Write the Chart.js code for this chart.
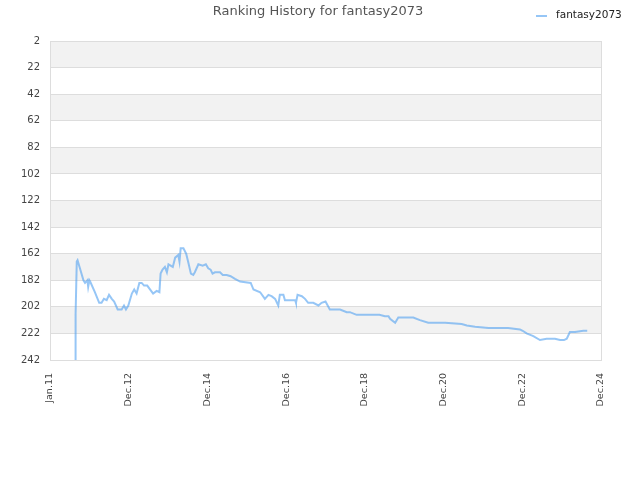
<!DOCTYPE html>
<html>
<head>
<meta charset="utf-8">
<script src="https://cdn.jsdelivr.net/npm/chart.js@4"></script>
<style>
  html, body { margin: 0; padding: 0; background: #fff; }
</style>
</head>
<body>
<canvas id="rankChart" width="640" height="480"></canvas>
<script>
const chartTitle = 'Ranking History for fantasy2073';
const seriesName = 'fantasy2073';
const xTickLabels = ['Jan.11', 'Dec.12', 'Dec.14', 'Dec.16', 'Dec.18', 'Dec.20', 'Dec.22', 'Dec.24'];
const xTickStep = 2;
const rankTicks = [2, 242, 20]; // min, max, step

// position along the time axis (0 = Jan.11, 14 = Dec.24)
const timePos = [
  0.65, 0.65, 0.68, 0.70, 0.76, 0.85, 0.89, 0.95, 0.97, 1.00,
  1.02, 1.14, 1.25, 1.31, 1.37, 1.44, 1.50, 1.57, 1.63, 1.72,
  1.82, 1.88, 1.93, 1.99, 2.08, 2.14, 2.20, 2.27, 2.33, 2.39,
  2.47, 2.62, 2.71, 2.78, 2.81, 2.86, 2.92, 2.97, 3.01, 3.12,
  3.18, 3.26, 3.29, 3.32, 3.39, 3.46, 3.51, 3.58, 3.64, 3.68,
  3.77, 3.88, 3.96, 4.02, 4.08, 4.13, 4.19, 4.32, 4.39, 4.49,
  4.59, 4.70, 4.83, 5.10, 5.17, 5.34, 5.46, 5.55, 5.63, 5.72,
  5.80, 5.84, 5.93, 5.97, 6.10, 6.23, 6.25, 6.29, 6.40, 6.48,
  6.56, 6.69, 6.82, 6.90, 7.00, 7.11, 7.24, 7.37, 7.54, 7.62,
  7.79, 7.92, 8.00, 8.09, 8.30, 8.37, 8.51, 8.60, 8.64, 8.77,
  8.85, 9.23, 9.40, 9.61, 10.04, 10.46, 10.59, 10.80, 11.14, 11.64,
  11.94, 12.01, 12.11, 12.28, 12.45, 12.62, 12.83, 12.96, 13.06, 13.13,
  13.21, 13.34, 13.55, 13.65
];
const ranks = [
  242, 208, 168, 167, 173, 182, 184, 182, 187, 182,
  183, 191, 199, 199, 196, 197, 193, 196, 198, 204,
  204, 201, 204, 201, 192, 189, 192, 184, 184, 186,
  186, 192, 190, 191, 177, 174, 172, 176, 170, 172,
  165, 163, 168, 158, 158, 162, 168, 177, 178, 176,
  170, 171, 170, 173, 174, 177, 176, 176, 178, 178,
  179, 181, 183, 184, 189, 191, 196, 193, 194, 196,
  201, 193, 193, 197, 197, 197, 199, 193, 194, 196,
  199, 199, 201, 199, 198, 204, 204, 204, 206, 206,
  208, 208, 208, 208, 208, 208, 209, 209, 211, 214,
  210, 210, 212, 214, 214, 215, 216, 217, 218, 218,
  219, 220, 222, 224, 227, 226, 226, 227, 227, 226,
  221, 221, 220, 220
];

const lineColor = 'rgba(80, 160, 240, 0.6)';
const gridColor = '#dddddd';
const bandColor = '#f2f2f2';

Chart.defaults.font.family = '"DejaVu Sans"';
Chart.defaults.color = '#444';

// alternating bands, right frame line, vertical x labels, title, legend
const decorPlugin = {
  id: 'decor',
  beforeDraw(chart) {
    const { ctx, chartArea: a } = chart;
    const ys = chart.scales.y;
    ctx.save();
    ctx.fillStyle = bandColor;
    for (let v = rankTicks[0]; v < rankTicks[1]; v += rankTicks[2] * 2) {
      const y1 = ys.getPixelForValue(v);
      const y2 = ys.getPixelForValue(v + rankTicks[2]);
      ctx.fillRect(a.left, y1, a.right - a.left, y2 - y1);
    }
    ctx.restore();
  },
  afterDraw(chart) {
    const { ctx, chartArea: a } = chart;
    const xs = chart.scales.x;
    ctx.save();
    ctx.strokeStyle = gridColor;
    ctx.lineWidth = 1;
    ctx.beginPath();
    ctx.moveTo(Math.round(a.right) + 0.5, a.top);
    ctx.lineTo(Math.round(a.right) + 0.5, a.bottom);
    ctx.stroke();

    // x tick labels, rotated to read bottom-up
    ctx.fillStyle = '#444';
    ctx.font = '9.5px "DejaVu Sans"';
    ctx.textAlign = 'right';
    ctx.textBaseline = 'middle';
    xTickLabels.forEach((lab, i) => {
      ctx.save();
      ctx.translate(xs.getPixelForValue(i * xTickStep), a.bottom + 13);
      ctx.rotate(-Math.PI / 2);
      ctx.fillText(lab, 0, 0);
      ctx.restore();
    });

    ctx.fillStyle = '#555';
    ctx.font = '13px "DejaVu Sans"';
    ctx.textAlign = 'center';
    ctx.fillText(chartTitle, 318, 12);

    ctx.strokeStyle = lineColor;
    ctx.lineWidth = 2;
    ctx.beginPath();
    ctx.moveTo(536, 16);
    ctx.lineTo(547, 16);
    ctx.stroke();
    ctx.fillStyle = '#222';
    ctx.font = '10.5px "DejaVu Sans"';
    ctx.textAlign = 'left';
    ctx.fillText(chart.data.datasets[0].label, 556, 15);
    ctx.restore();
  }
};

new Chart(document.getElementById('rankChart'), {
  type: 'line',
  data: {
    datasets: [{
      label: seriesName,
      data: timePos.map((x, i) => ({ x, y: ranks[i] })),
      borderColor: lineColor,
      backgroundColor: lineColor,
      borderWidth: 2,
      pointRadius: 0,
      tension: 0,
      fill: false
    }]
  },
  options: {
    responsive: false,
    animation: false,
    layout: { padding: { top: 41, right: 39 } },
    plugins: {
      legend: { display: false },
      tooltip: { enabled: false }
    },
    scales: {
      x: {
        type: 'linear',
        min: 0,
        max: (xTickLabels.length - 1) * xTickStep,
        grid: { display: false },
        border: { color: gridColor },
        ticks: { display: false, stepSize: xTickStep },
        afterFit: s => { s.height = 120; }
      },
      y: {
        reverse: true,
        min: rankTicks[0],
        max: rankTicks[1],
        grid: { color: gridColor, drawTicks: false },
        border: { color: gridColor },
        ticks: {
          stepSize: rankTicks[2],
          padding: 10,
          font: { size: 10 }
        },
        afterFit: s => { s.width = 50; }
      }
    }
  },
  plugins: [decorPlugin]
});
</script>
</body>
</html>
